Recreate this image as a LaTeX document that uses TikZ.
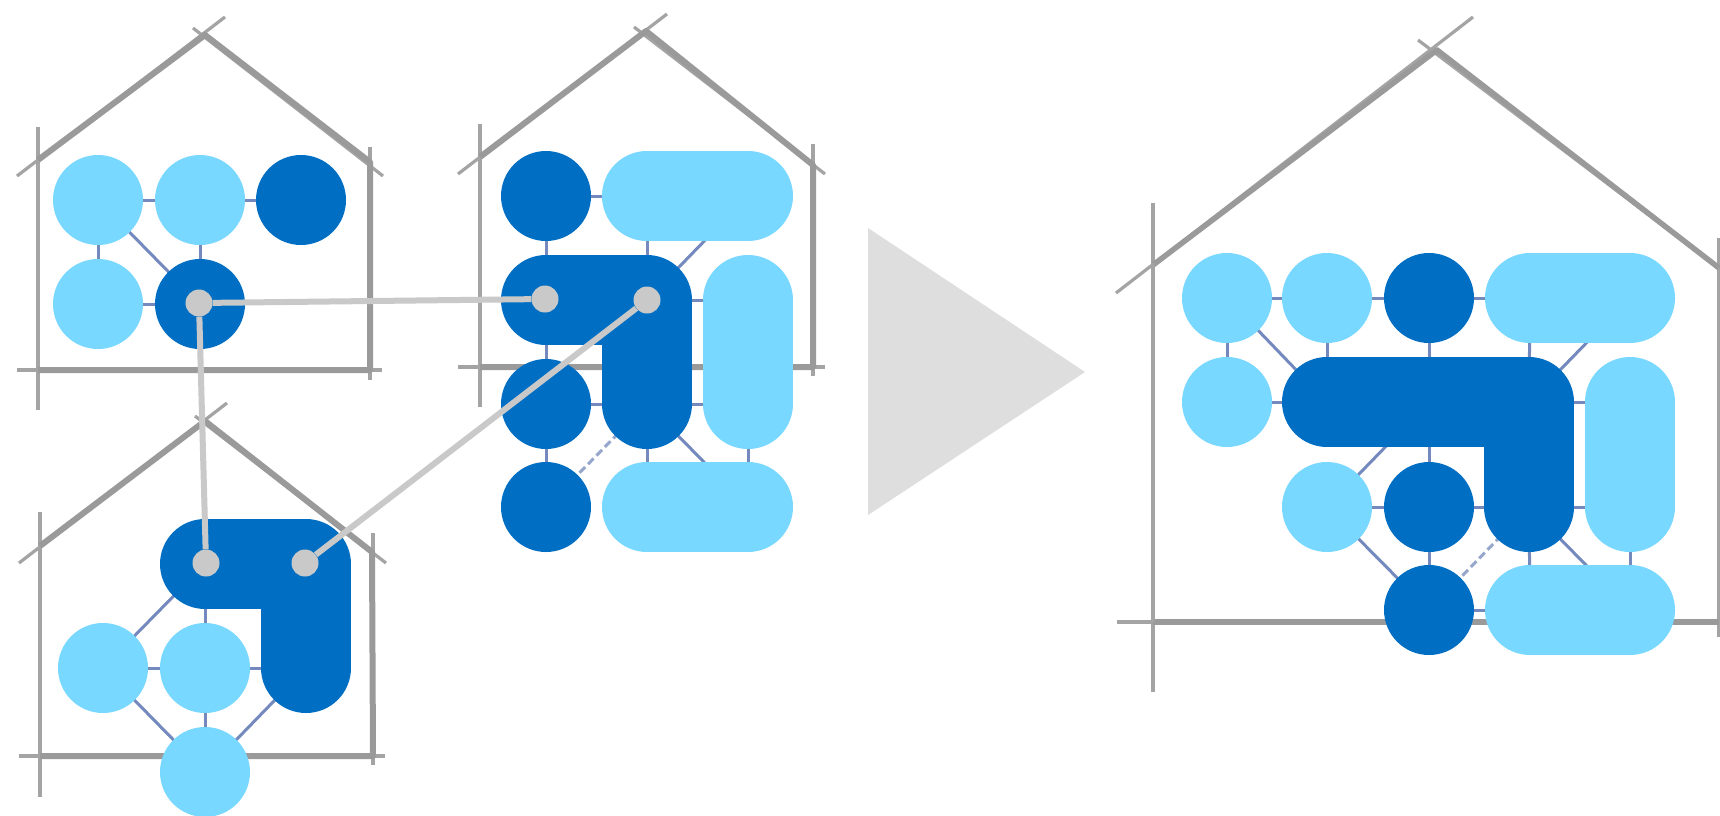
\documentclass[tikz,border=0pt]{standalone}
\definecolor{lightb}{HTML}{78D8FF}
\definecolor{darkb}{HTML}{006FC3}
\definecolor{wallg}{HTML}{9A9A9A}
\definecolor{thing}{HTML}{A4A4A4}
\definecolor{linkc}{HTML}{7489BD}
\definecolor{dotc}{HTML}{C9C9C9}
\definecolor{triac}{HTML}{DEDEDE}
\tikzset{
  wall/.style={draw=wallg,line width=6pt},
  guide/.style={draw=thing,line width=3.2pt},
  wire/.style={draw=linkc,line width=3pt},
  dwire/.style={draw=linkc!75,line width=3pt,dash pattern=on 8pt off 4pt},
  lightn/.style={circle,fill=lightb,minimum size=90pt,inner sep=0pt},
  darkn/.style={circle,fill=darkb,minimum size=90pt,inner sep=0pt},
  lpill/.style={draw=lightb,line width=90pt,line cap=round,line join=round},
  dpill/.style={draw=darkb,line width=90pt,line cap=round,line join=round},
  dotn/.style={circle,fill=dotc,minimum size=27pt,inner sep=0pt},
  glink/.style={draw=dotc,line width=6pt},
}
\begin{document}
\begin{tikzpicture}[x=1pt,y=-1pt]
\useasboundingbox[fill=white] (0,0) rectangle (1720,815);
% triangle
\fill[triac] (868,228) -- (1085,372) -- (868,515) -- cycle;

% ---- house 1
\draw[guide] (17,176) -- (225,17);
\draw[guide] (193,28) -- (383,176);
\draw[guide] (38,127) -- (38,410);
\draw[guide] (370,147) -- (370,380);
\draw[guide] (17,370) -- (382,370);
\draw[wall,line join=round] (38,160) -- (205,35) -- (370,162) -- (370,370) -- (38,370);
\coordinate (a1) at (98,200); \coordinate (a2) at (200,200); \coordinate (a3) at (301,200);
\coordinate (a4) at (98,304); \coordinate (a5) at (200,304);
\foreach \p/\q in {a1/a2,a2/a3,a1/a4,a2/a5,a4/a5,a1/a5} \draw[wire] (\p) -- (\q);
\node[lightn] (na1) at (a1) {};
\node[lightn] (na2) at (a2) {};
\node[darkn] (na3) at (a3) {};
\node[lightn] (na4) at (a4) {};
\node[darkn] (na5) at (a5) {};

% ---- house 2
\draw[guide] (458,174) -- (667,14);
\draw[guide] (634,27) -- (825,174);
\draw[guide] (480,124) -- (480,407);
\draw[guide] (813,144) -- (813,376);
\draw[guide] (458,367) -- (825,367);
\draw[wall,line join=round] (480,157) -- (646,31) -- (813,165) -- (813,367) -- (480,367);
\coordinate (b11) at (546,196); \coordinate (b12) at (647,196); \coordinate (b13) at (748,196);
\coordinate (b21) at (546,300); \coordinate (b22) at (647,300); \coordinate (b23) at (748,300);
\coordinate (b31) at (546,404); \coordinate (b32) at (647,404); \coordinate (b33) at (748,404);
\coordinate (b41) at (546,507); \coordinate (b42) at (647,507); \coordinate (b43) at (748,507);
\foreach \p/\q in {b11/b12,b11/b21,b12/b22,b13/b22,b22/b23,b21/b31,b31/b32,b32/b33,b31/b41,b32/b42,b33/b43,b32/b43}
  \draw[wire] (\p) -- (\q);
\draw[dwire] (b41) -- (b32);
\node[darkn] (nb11) at (b11) {};
\draw[lpill] (b12) -- (b13);
\draw[dpill] (b21) -- (b22) -- (b32);
\draw[lpill] (b23) -- (b33);
\node[darkn] (nb31) at (b31) {};
\node[darkn] (nb41) at (b41) {};
\draw[lpill] (b42) -- (b43);

% ---- house 3
\draw[guide] (19,563) -- (227,403);
\draw[guide] (195,416) -- (386,563);
\draw[guide] (40,512) -- (40,797);
\draw[guide] (373,533) -- (373,765);
\draw[guide] (19,756) -- (385,756);
\draw[wall,line join=round] (40,546) -- (205,421) -- (372,552) -- (373,756) -- (40,756);
\coordinate (c12) at (205,564); \coordinate (c13) at (306,564);
\coordinate (c21) at (103,668); \coordinate (c22) at (205,668); \coordinate (c23) at (306,668);
\coordinate (c32) at (205,772);
\foreach \p/\q in {c21/c22,c22/c23,c12/c22,c22/c32,c21/c12,c21/c32,c32/c23} \draw[wire] (\p) -- (\q);
\draw[dpill] (c12) -- (c13) -- (c23);
\node[lightn] (nc21) at (c21) {};
\node[lightn] (nc22) at (c22) {};
\node[lightn] (nc32) at (c32) {};

% ---- house 4
\draw[guide] (1116,293) -- (1473,17);
\draw[guide] (1418,40) -- (1740,284);
\draw[guide] (1153,203) -- (1153,692);
\draw[guide] (1719,238) -- (1719,637);
\draw[guide] (1117,622) -- (1720,622);
\draw[wall,line join=round,line width=5.5pt] (1153,265) -- (1437,50) -- (1719,268);
\draw[wall] (1153,622) -- (1719,622);
\draw[guide,line width=3.6pt] (1153,263) -- (1153,622);
\coordinate (d11) at (1227,298); \coordinate (d12) at (1327,298); \coordinate (d13) at (1429,298);
\coordinate (d14) at (1530,298); \coordinate (d15) at (1630,298);
\coordinate (d21) at (1227,402); \coordinate (d22) at (1327,402); \coordinate (d23) at (1429,402);
\coordinate (d24) at (1529,402); \coordinate (d25) at (1630,402);
\coordinate (d32) at (1327,507); \coordinate (d33) at (1429,507); \coordinate (d34) at (1529,507);
\coordinate (d35) at (1630,507);
\coordinate (d43) at (1429,610); \coordinate (d44) at (1530,610); \coordinate (d45) at (1630,610);
\foreach \p/\q in {d11/d12,d12/d13,d13/d14,d11/d21,d11/d22,d12/d22,d13/d23,d14/d24,d15/d24,d24/d25,d21/d22,d32/d23,d23/d33,d32/d33,d33/d34,d34/d35,d32/d43,d33/d43,d34/d44,d34/d45,d35/d45,d43/d44}
  \draw[wire] (\p) -- (\q);
\draw[dwire] (d43) -- (d34);
\node[lightn] (nd11) at (d11) {};
\node[lightn] (nd12) at (d12) {};
\node[darkn] (nd13) at (d13) {};
\draw[lpill] (d14) -- (d15);
\node[lightn] (nd21) at (d21) {};
\draw[dpill] (d22) -- (d24) -- (d34);
\draw[lpill] (d25) -- (d35);
\node[lightn] (nd32) at (d32) {};
\node[darkn] (nd33) at (d33) {};
\node[darkn] (nd43) at (d43) {};
\draw[lpill] (d44) -- (d45);

% ---- grey links
\node[dotn] (p1) at (199,303) {};
\node[dotn] (p2) at (545,299) {};
\node[dotn] (p3) at (647,300) {};
\node[dotn] (p4) at (206,563) {};
\node[dotn] (p5) at (305,563) {};
\draw[glink] (p1) -- (p2);
\draw[glink] (p1) -- (p4);
\draw[glink] (p3) -- (p5);
\end{tikzpicture}
\end{document}
